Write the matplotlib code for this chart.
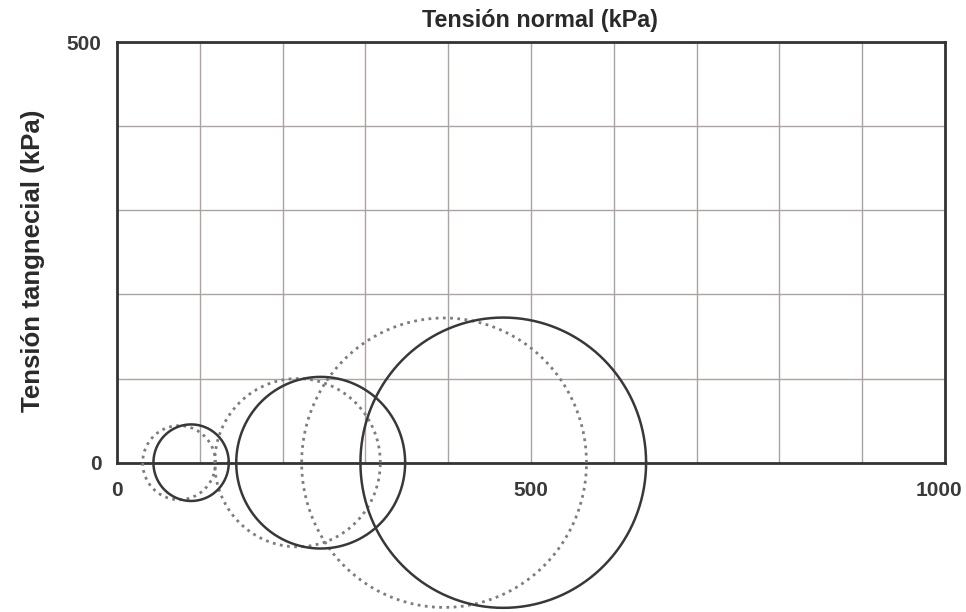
import numpy as np
import matplotlib
matplotlib.use("Agg")
import matplotlib.pyplot as plt
import matplotlib.transforms as mtransforms

plt.rcParams['font.family'] = ['Liberation Sans', 'DejaVu Sans']

# Mohr circles: principal stresses (kPa) for three specimens
sigma3_total = [44, 144, 294]
sigma1_total = [135, 348, 639]
sigma3_eff = [31, 118, 223]
sigma1_eff = [119, 318, 567]

x_ticks = [0, 500, 1000]
y_ticks = [0, 500]
title = "Tensión normal (kPa)"
ylabel = "Tensión tangnecial (kPa)"

W, H = 966, 612
fig = plt.figure(figsize=(W / 100, H / 100), dpi=100)
fig.patch.set_facecolor("white")
ax = fig.add_axes([117 / W, (H - 462.7) / H, (945 - 117) / W, (462.7 - 42) / H])

ax.set_xlim(0, 1000)
ax.set_ylim(0, 500)

ax.set_xticks(x_ticks)
ax.set_yticks(y_ticks)
ax.set_xticks(np.arange(0, 1001, 100), minor=True)
ax.set_yticks(np.arange(0, 501, 100), minor=True)
ax.grid(which="both", color="#aca3a1", linewidth=1.0)
ax.set_axisbelow(True)
ax.tick_params(which="both", length=0)
ax.tick_params(axis="x", pad=13, labelsize=15, labelcolor="#3a3a3a")
ax.tick_params(axis="y", pad=11, labelsize=15, labelcolor="#3a3a3a")
for lab in ax.get_xticklabels() + ax.get_yticklabels():
    lab.set_fontweight("bold")

# keep the last x label inside the figure edge
last = ax.get_xticklabels()[-1]
last.set_transform(last.get_transform()
                   + mtransforms.ScaledTranslation(-6 / 100, 0, fig.dpi_scale_trans))

for s in ax.spines.values():
    s.set_color("#333333")
    s.set_linewidth(2.0)

theta = np.linspace(0, 2 * np.pi, 721)


def mohr(s3, s1, **kw):
    c = (s1 + s3) / 2.0
    r = (s1 - s3) / 2.0
    ax.plot(c + r * np.cos(theta), r * np.sin(theta), clip_on=False, **kw)


for s3, s1 in zip(sigma3_eff, sigma1_eff):
    mohr(s3, s1, color="#7d7d7d", linewidth=2.0, linestyle=(0, (1, 1.6)), zorder=3)
for s3, s1 in zip(sigma3_total, sigma1_total):
    mohr(s3, s1, color="#383838", linewidth=1.8, linestyle="-", zorder=4)

fig.text(540 / W, 1 - 21 / H, title, ha="center", va="center",
         fontsize=16.8, fontweight="bold", color="#2a2a2a")
fig.text(33 / W, 1 - 261 / H, ylabel, ha="center", va="center", rotation=90,
         fontsize=18.6, fontweight="bold", color="#2a2a2a")

fig.savefig("out.png", dpi=100, facecolor="white")
